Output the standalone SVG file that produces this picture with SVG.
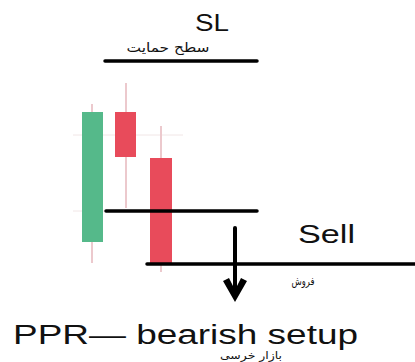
<svg xmlns="http://www.w3.org/2000/svg" width="415" height="362" viewBox="0 0 415 362">
<style>
.lat{font-family:"Liberation Sans",Arial,sans-serif;fill:#111}
.fa{font-family:"DejaVu Sans","Noto Sans",sans-serif;fill:#111;text-anchor:middle}
.lvl{stroke:#000;stroke-width:3.5;stroke-linecap:round;fill:none}
.grid{stroke:#f1e6e6;stroke-width:1}
.wick{stroke:#ecc9cd;stroke-width:2}
.up{fill:#55b98a}
.dn{fill:#e84b5b}
</style>
<rect width="415" height="362" fill="#fff"/>
<g id="grid">
<line class="grid" x1="73" y1="135" x2="183" y2="135"/>
<line class="grid" x1="73" y1="211" x2="183" y2="211"/>
</g>
<g id="candle1">
<line class="wick" x1="92" y1="104" x2="92" y2="263"/>
<rect class="up" x="82" y="112" width="21" height="130"/>
</g>
<g id="candle2">
<line class="wick" x1="126" y1="83" x2="126" y2="208"/>
<rect class="dn" x="115" y="112" width="21" height="45"/>
</g>
<g id="candle3">
<line class="wick" x1="161" y1="126" x2="161" y2="272"/>
<rect class="dn" x="150" y="158" width="22" height="106"/>
</g>
<g id="connectors">
<line id="sl-line" class="lvl" x1="105" y1="61" x2="257" y2="61"/>
<line id="mid-line" class="lvl" x1="106" y1="211" x2="257" y2="211"/>
<line id="sell-line" class="lvl" x1="147" y1="264" x2="416" y2="264" stroke-linecap="butt"/>
<line id="arrow-shaft" x1="235" y1="228" x2="235" y2="292" stroke="#000" stroke-width="4" stroke-linecap="round"/>
<path id="arrow-head" d="M223,281 L235,302 L247,281 L241,278 L235,290 L229,278 Z" fill="#000"/>
</g>
<g id="sl-label">
<text class="lat" x="195" y="31" font-size="23" textLength="34" lengthAdjust="spacingAndGlyphs">SL</text>
<text class="fa" x="168" y="52" font-size="13" textLength="83" lengthAdjust="spacingAndGlyphs">سطح حمایت</text>
</g>
<g id="sell-label">
<text class="lat" x="298" y="243" font-size="25" textLength="57" lengthAdjust="spacingAndGlyphs">Sell</text>
<text class="fa" x="303" y="285" font-size="11" textLength="23" lengthAdjust="spacingAndGlyphs">فروش</text>
</g>
<g id="title">
<text class="lat" x="13" y="344" font-size="27" textLength="345" lengthAdjust="spacingAndGlyphs">PPR— bearish setup</text>
<text class="fa" x="251" y="359" font-size="11" textLength="62" lengthAdjust="spacingAndGlyphs">بازار خرسی</text>
</g>
</svg>
